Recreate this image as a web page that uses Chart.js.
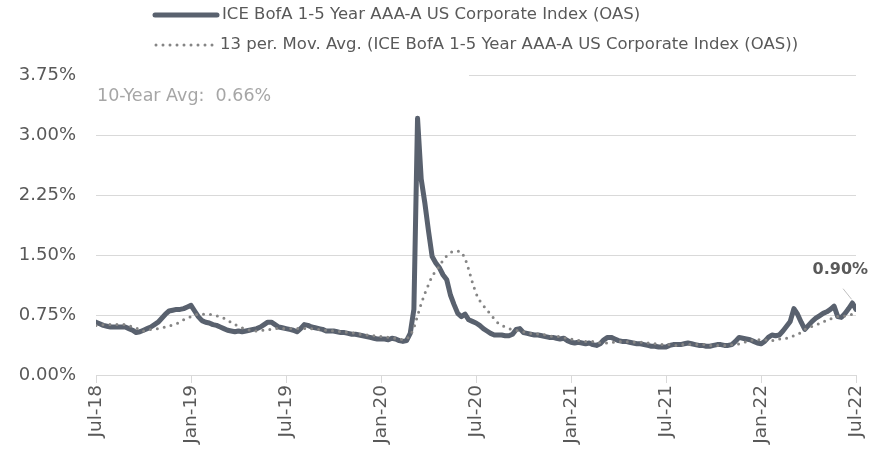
<!DOCTYPE html>
<html>
<head>
<meta charset="utf-8">
<script src="https://cdn.jsdelivr.net/npm/chart.js@4.4.1/dist/chart.umd.min.js"></script>
<style>
  html, body { margin: 0; padding: 0; background: #fff; }
</style>
</head>
<body>
<canvas id="oas-chart" width="885" height="452"></canvas>
<script>
// weekly values, Jul-18 .. Jul-22 (percent)
const tickLabels = ['Jul-18', 'Jan-19', 'Jul-19', 'Jan-20', 'Jul-20', 'Jan-21', 'Jul-21', 'Jan-22', 'Jul-22'];

const oasValues = [
    0.66, 0.64, 0.62, 0.61, 0.60, 0.60, 0.60, 0.60, 0.60, 0.58,
    0.56, 0.53, 0.54, 0.56, 0.58, 0.60, 0.63, 0.66, 0.71, 0.76,
    0.80, 0.81, 0.82, 0.82, 0.83, 0.85, 0.87, 0.80, 0.73, 0.68,
    0.66, 0.65, 0.63, 0.62, 0.60, 0.58, 0.56, 0.55, 0.54, 0.55,
    0.54, 0.55, 0.56, 0.57, 0.58, 0.60, 0.63, 0.66, 0.66, 0.63,
    0.60, 0.59, 0.58, 0.57, 0.56, 0.54, 0.58, 0.63, 0.62, 0.60,
    0.59, 0.58, 0.57, 0.55, 0.55, 0.55, 0.54, 0.53, 0.53, 0.52,
    0.51, 0.51, 0.50, 0.49, 0.48, 0.47, 0.46, 0.45, 0.45, 0.45,
    0.44, 0.46, 0.45, 0.43, 0.42, 0.43, 0.52, 0.82, 3.21, 2.45,
    2.15, 1.80, 1.48, 1.40, 1.34, 1.25, 1.19, 1.00, 0.88, 0.77,
    0.73, 0.76, 0.69, 0.67, 0.65, 0.62, 0.58, 0.55, 0.52, 0.50,
    0.50, 0.50, 0.49, 0.49, 0.51, 0.57, 0.58, 0.53, 0.52, 0.51,
    0.50, 0.50, 0.49, 0.48, 0.47, 0.47, 0.46, 0.45, 0.46, 0.43,
    0.41, 0.40, 0.41, 0.40, 0.39, 0.40, 0.38, 0.37, 0.39, 0.44,
    0.47, 0.47, 0.45, 0.43, 0.42, 0.42, 0.41, 0.40, 0.39, 0.39,
    0.38, 0.37, 0.36, 0.36, 0.35, 0.35, 0.35, 0.37, 0.38, 0.38,
    0.38, 0.39, 0.40, 0.39, 0.38, 0.37, 0.37, 0.36, 0.36, 0.37,
    0.38, 0.38, 0.37, 0.37, 0.38, 0.42, 0.47, 0.46, 0.45, 0.44,
    0.42, 0.40, 0.39, 0.42, 0.47, 0.50, 0.49, 0.50, 0.55, 0.61,
    0.67, 0.83, 0.76, 0.66, 0.57, 0.62, 0.67, 0.71, 0.74, 0.77,
    0.79, 0.82, 0.86, 0.73, 0.72, 0.77, 0.83, 0.90, 0.82
];

const movAvgValues = [
    0.62, 0.62, 0.63, 0.63, 0.63, 0.63, 0.63, 0.63, 0.63, 0.62,
    0.60, 0.59, 0.56, 0.55, 0.56, 0.57, 0.57, 0.58, 0.59, 0.60,
    0.61, 0.63, 0.64, 0.66, 0.69, 0.71, 0.73, 0.75, 0.76, 0.76,
    0.76, 0.76, 0.75, 0.74, 0.73, 0.71, 0.68, 0.66, 0.63, 0.61,
    0.59, 0.57, 0.56, 0.55, 0.55, 0.56, 0.56, 0.57, 0.57, 0.58,
    0.58, 0.58, 0.58, 0.58, 0.58, 0.58, 0.58, 0.58, 0.58, 0.58,
    0.57, 0.57, 0.56, 0.56, 0.56, 0.55, 0.55, 0.54, 0.54, 0.53,
    0.53, 0.52, 0.51, 0.51, 0.50, 0.50, 0.49, 0.49, 0.48, 0.48,
    0.47, 0.46, 0.46, 0.45, 0.44, 0.45, 0.49, 0.59, 0.74, 0.89,
    1.02, 1.13, 1.24, 1.30, 1.36, 1.44, 1.49, 1.53, 1.55, 1.55,
    1.54, 1.46, 1.32, 1.16, 1.02, 0.93, 0.87, 0.81, 0.76, 0.70,
    0.65, 0.62, 0.60, 0.58, 0.57, 0.56, 0.55, 0.54, 0.53, 0.52,
    0.52, 0.51, 0.51, 0.50, 0.49, 0.48, 0.48, 0.48, 0.47, 0.45,
    0.45, 0.44, 0.43, 0.43, 0.42, 0.42, 0.42, 0.41, 0.40, 0.40,
    0.40, 0.41, 0.41, 0.42, 0.42, 0.42, 0.41, 0.41, 0.41, 0.41,
    0.40, 0.40, 0.40, 0.39, 0.39, 0.38, 0.38, 0.38, 0.37, 0.37,
    0.38, 0.38, 0.38, 0.38, 0.38, 0.38, 0.38, 0.38, 0.37, 0.37,
    0.37, 0.37, 0.37, 0.37, 0.38, 0.38, 0.39, 0.40, 0.42, 0.43,
    0.44, 0.44, 0.44, 0.44, 0.43, 0.43, 0.44, 0.45, 0.45, 0.46,
    0.48, 0.49, 0.51, 0.53, 0.57, 0.59, 0.61, 0.63, 0.64, 0.66,
    0.69, 0.70, 0.72, 0.73, 0.73, 0.74, 0.75, 0.76, 0.77
];

const seriesNames = [
    'ICE BofA 1-5 Year AAA-A US Corporate Index (OAS)',
    '13 per. Mov. Avg. (ICE BofA 1-5 Year AAA-A US Corporate Index (OAS))'
];
const avgNote = '10-Year Avg:  0.66%';
const lastLabelIndex = 207;

const FONT = "'DejaVu Sans', sans-serif";
const lineColor = '#59616e';
const dotColor = '#858585';
const textColor = '#595959';
const gridColor = '#d9d9d9';

const weeksPerTick = 26;

// legend, avg note and end label
const overlayPlugin = {
    id: 'overlay',
    beforeDatasetsDraw(chart) {
        const { ctx, chartArea } = chart;
        ctx.save();
        // text box of the avg note hides the top gridline on the left
        ctx.fillStyle = '#fff';
        ctx.fillRect(chartArea.left - 1, chartArea.top - 3, 374, 6);
        ctx.fillStyle = '#a6a6a6';
        ctx.font = '17.5px ' + FONT;
        ctx.textBaseline = 'middle';
        ctx.fillText(avgNote, chartArea.left + 1, chartArea.top + 21);
        ctx.restore();
    },
    afterDraw(chart) {
        const { ctx } = chart;
        ctx.save();

        // legend
        ctx.lineCap = 'round';
        ctx.strokeStyle = lineColor;
        ctx.lineWidth = 5;
        ctx.beginPath();
        ctx.moveTo(155, 15);
        ctx.lineTo(217, 15);
        ctx.stroke();

        ctx.strokeStyle = dotColor;
        ctx.lineWidth = 3;
        ctx.setLineDash([0, 7]);
        ctx.beginPath();
        ctx.moveTo(156, 45);
        ctx.lineTo(216, 45);
        ctx.stroke();
        ctx.setLineDash([]);

        ctx.fillStyle = textColor;
        ctx.font = '16.5px ' + FONT;
        ctx.textBaseline = 'middle';
        ctx.fillText(seriesNames[0], 222, 15);
        ctx.fillText(seriesNames[1], 220, 45);

        // end label
        const pt = chart.getDatasetMeta(1).data[lastLabelIndex];
        ctx.strokeStyle = '#bfbfbf';
        ctx.lineWidth = 1;
        ctx.beginPath();
        ctx.moveTo(pt.x - 9, pt.y - 14);
        ctx.lineTo(pt.x - 1, pt.y - 4);
        ctx.stroke();

        ctx.fillStyle = textColor;
        ctx.font = 'bold 16px ' + FONT;
        ctx.textAlign = 'center';
        ctx.fillText(oasValues[lastLabelIndex].toFixed(2) + '%', pt.x - 12, pt.y - 33);
        ctx.restore();
    }
};

const canvas = document.querySelector('#oas-chart');

const oasChart = new Chart(canvas.getContext('2d'), {
    type: 'line',
    data: {
        datasets: [
            {
                label: seriesNames[1],
                data: movAvgValues.map((v, i) => ({ x: i, y: v })),
                borderColor: dotColor,
                borderWidth: 3,
                borderDash: [0, 7],
                borderCapStyle: 'round',
                pointRadius: 0,
                tension: 0,
                order: 1
            },
            {
                label: seriesNames[0],
                data: oasValues.map((v, i) => ({ x: i, y: v })),
                borderColor: lineColor,
                borderWidth: 5,
                borderJoinStyle: 'round',
                borderCapStyle: 'round',
                pointRadius: 0,
                tension: 0,
                order: 2
            }
        ]
    },
    options: {
        responsive: false,
        animation: false,
        layout: {
            padding: { top: 75, right: 29, left: 0, bottom: 0 }
        },
        plugins: {
            legend: { display: false },
            tooltip: { enabled: false }
        },
        scales: {
            x: {
                type: 'linear',
                min: 0,
                max: weeksPerTick * (tickLabels.length - 1),
                afterFit: scale => { scale.height = 77; },
                ticks: {
                    stepSize: weeksPerTick,
                    autoSkip: false,
                    minRotation: 90,
                    maxRotation: 90,
                    padding: 2,
                    color: textColor,
                    font: { family: FONT, size: 18.5 },
                    callback: value => tickLabels[value / weeksPerTick]
                },
                grid: {
                    drawOnChartArea: false,
                    drawTicks: true,
                    tickLength: 8,
                    color: gridColor
                },
                border: { color: gridColor }
            },
            y: {
                min: 0,
                max: 3.75,
                afterFit: scale => { scale.width = 96; },
                ticks: {
                    stepSize: 0.75,
                    padding: 20,
                    color: textColor,
                    font: { family: FONT, size: 18 },
                    callback: value => value.toFixed(2) + '%'
                },
                grid: {
                    drawTicks: false,
                    color: gridColor
                },
                border: { display: false }
            }
        }
    },
    plugins: [overlayPlugin]
});
</script>
</body>
</html>
